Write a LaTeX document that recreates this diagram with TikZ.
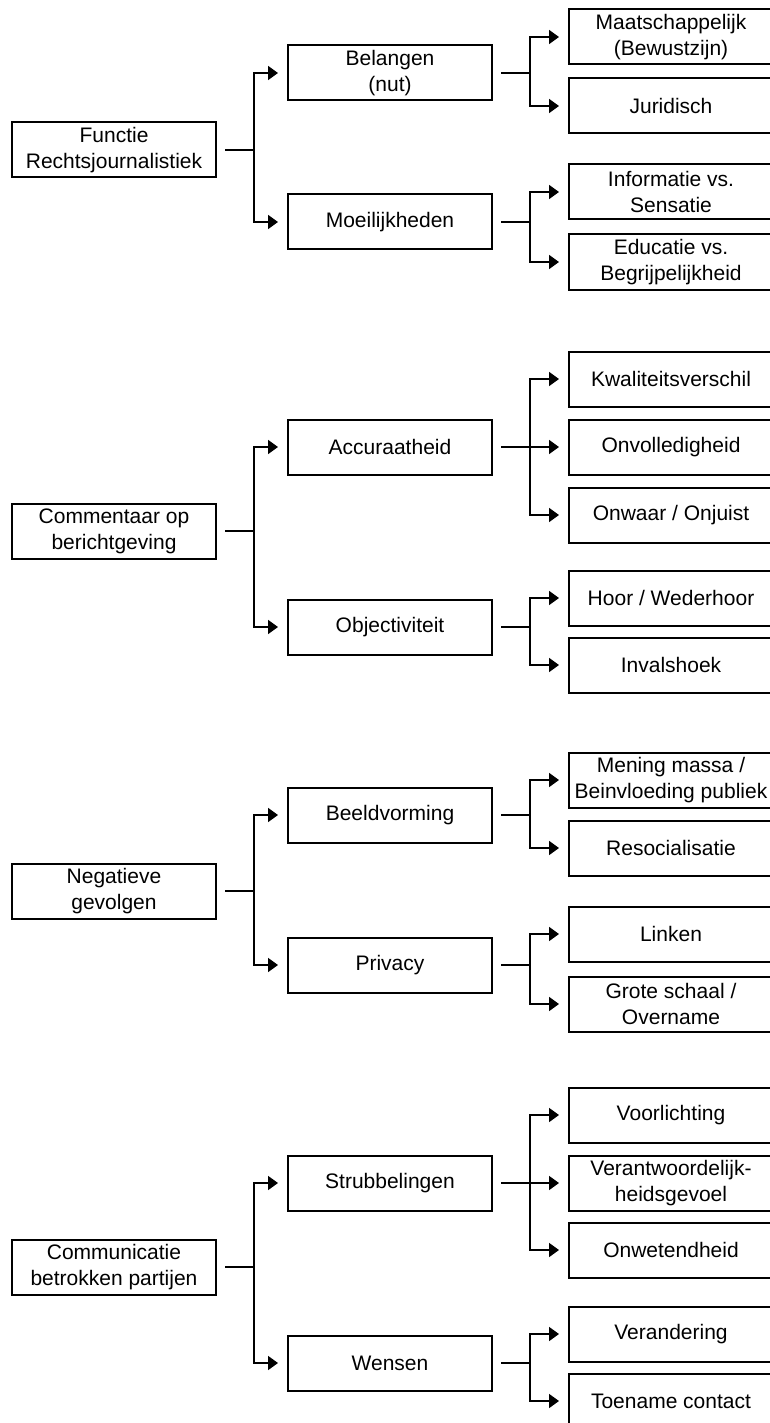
\documentclass[tikz,border=0pt]{standalone}
\usepackage{fontspec}
\setmainfont{Liberation Sans}
\usetikzlibrary{arrows.meta}

\tikzset{
    blok/.style={draw, line width=2pt, minimum width=204pt, minimum height=55pt,
        inner sep=0pt, align=center, font=\fontsize{21}{26}\selectfont},
    tak/.style={line width=1.8pt, -{Triangle[length=10pt,width=14pt]},
        shorten <=8pt, shorten >=9pt},
}

\begin{document}
\begin{tikzpicture}[x=1pt, y=-1pt]
        \useasboundingbox (0, 0) rectangle (770, 1423);
        \clip (0, 0) rectangle (770, 1423);
        % functie
        \begin{scope}
            \node[blok] (functie) at (114, 150) {Functie\\Rechtsjournalistiek};
            \node[blok] (belangen) at (390, 73) {Belangen\\(nut)};
            \node[blok] (moeilijkheden) at (390, 222) {Moeilijkheden};
            \node[blok] (maatschappelijk) at (671, 37) {Maatschappelijk\\(Bewustzijn)};
            \node[blok] (juridisch) at (671, 106) {Juridisch};
            \node[blok] (informatie) at (671, 192) {Informatie vs.\\Sensatie};
            \node[blok] (educatie) at (671, 262) {Educatie vs.\\Begrijpelijkheid};
            \foreach \k in {belangen, moeilijkheden}
                \draw[tak] (functie.east) -- ++(37, 0) |- (\k.west);
            \foreach \k in {maatschappelijk, juridisch}
                \draw[tak] (belangen.east) -- ++(37, 0) |- (\k.west);
            \foreach \k in {informatie, educatie}
                \draw[tak] (moeilijkheden.east) -- ++(37, 0) |- (\k.west);
        \end{scope}
        % commentaar
        \begin{scope}
            \node[blok] (commentaar) at (114, 531) {Commentaar op\\berichtgeving};
            \node[blok] (accuraatheid) at (390, 447) {Accuraatheid};
            \node[blok] (objectiviteit) at (390, 627) {Objectiviteit};
            \node[blok] (kwaliteit) at (671, 379) {Kwaliteitsverschil};
            \node[blok] (onvolledig) at (671, 447) {Onvolledigheid};
            \node[blok] (onwaar) at (671, 515) {Onwaar / Onjuist};
            \node[blok] (hoor) at (671, 598) {Hoor / Wederhoor};
            \node[blok] (invalshoek) at (671, 665) {Invalshoek};
            \foreach \k in {accuraatheid, objectiviteit}
                \draw[tak] (commentaar.east) -- ++(37, 0) |- (\k.west);
            \foreach \k in {kwaliteit, onvolledig, onwaar}
                \draw[tak] (accuraatheid.east) -- ++(37, 0) |- (\k.west);
            \foreach \k in {hoor, invalshoek}
                \draw[tak] (objectiviteit.east) -- ++(37, 0) |- (\k.west);
        \end{scope}
        % negatieve gevolgen
        \begin{scope}
            \node[blok] (negatief) at (114, 891) {Negatieve\\gevolgen};
            \node[blok] (beeld) at (390, 815) {Beeldvorming};
            \node[blok] (privacy) at (390, 965) {Privacy};
            \node[blok] (mening) at (671, 780) {Mening massa /\\Beinvloeding publiek};
            \node[blok] (resocialisatie) at (671, 848) {Resocialisatie};
            \node[blok] (linken) at (671, 934) {Linken};
            \node[blok] (grote) at (671, 1004) {Grote schaal /\\Overname};
            \foreach \k in {beeld, privacy}
                \draw[tak] (negatief.east) -- ++(37, 0) |- (\k.west);
            \foreach \k in {mening, resocialisatie}
                \draw[tak] (beeld.east) -- ++(37, 0) |- (\k.west);
            \foreach \k in {linken, grote}
                \draw[tak] (privacy.east) -- ++(37, 0) |- (\k.west);
        \end{scope}
        % communicatie
        \begin{scope}
            \node[blok] (communicatie) at (114, 1267) {Communicatie\\betrokken partijen};
            \node[blok] (strubbel) at (390, 1183) {Strubbelingen};
            \node[blok] (wensen) at (390, 1363) {Wensen};
            \node[blok] (voorlichting) at (671, 1115) {Voorlichting};
            \node[blok] (verantwoord) at (671, 1183) {Verantwoordelijk-\\heidsgevoel};
            \node[blok] (onwetend) at (671, 1250) {Onwetendheid};
            \node[blok] (verandering) at (671, 1334) {Verandering};
            \node[blok] (toename) at (671, 1401) {Toename contact};
            \foreach \k in {strubbel, wensen}
                \draw[tak] (communicatie.east) -- ++(37, 0) |- (\k.west);
            \foreach \k in {voorlichting, verantwoord, onwetend}
                \draw[tak] (strubbel.east) -- ++(37, 0) |- (\k.west);
            \foreach \k in {verandering, toename}
                \draw[tak] (wensen.east) -- ++(37, 0) |- (\k.west);
        \end{scope}
    \end{tikzpicture}
\end{document}
